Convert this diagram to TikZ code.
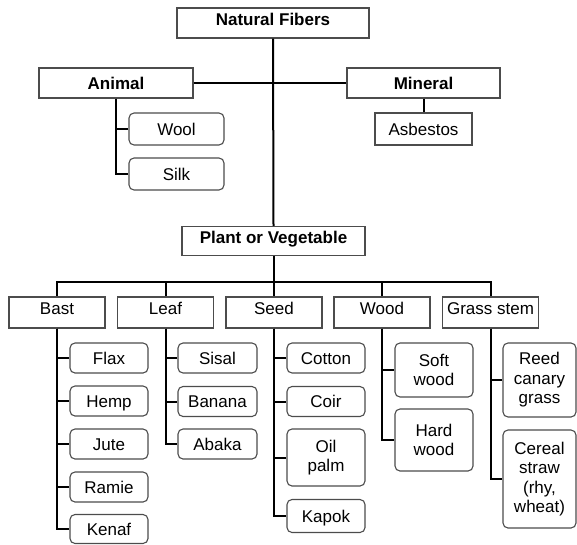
\documentclass[tikz,border=0pt]{standalone}
\usepackage{fontspec}
\setmainfont{Liberation Sans}
\begin{document}
\begin{tikzpicture}[x=1pt,y={(0pt,-1pt)},
  box/.style={draw=black!70, line width=1.1pt, inner sep=0pt, align=center,
    font=\fontsize{17}{19.5}\selectfont},
  one/.style={text height=12.2pt, text depth=0pt},
  up/.style={text height=12.2pt, text depth=8pt},
  headbox/.style={box, font=\fontsize{17}{19.5}\selectfont\bfseries},
  catbox/.style={box, up, minimum width=96pt, minimum height=31pt},
  leafbox/.style={box, rounded corners=5pt},
  conn/.style={line width=2pt, black}]
\useasboundingbox (0,0) rectangle (577,544);
% top level
\node[headbox, up, minimum width=192pt, minimum height=30pt] (nf) at (273,23) {Natural Fibers};
\node[headbox, one, minimum width=154pt, minimum height=30pt] (animal) at (116,83) {Animal};
\node[headbox, one, minimum width=153pt, minimum height=30pt] (mineral) at (423.5,83) {Mineral};
\node[leafbox, one, minimum width=95pt, minimum height=32pt] (wool) at (176.5,129) {Wool};
\node[leafbox, one, minimum width=95pt, minimum height=32pt] (silk) at (176.5,174) {Silk};
\node[box, one, minimum width=97pt, minimum height=32pt] (asb) at (423.5,129) {Asbestos};
\node[headbox, up, minimum width=183pt, minimum height=29pt] (plant) at (273.5,241) {Plant or Vegetable};
% categories
\node[catbox] (bast) at (57,312.5) {Bast};
\node[catbox] (leaf) at (165.5,312.5) {Leaf};
\node[catbox] (seed) at (274,312.5) {Seed};
\node[catbox] (wood) at (382,312.5) {Wood};
\node[catbox] (grass) at (490.5,312.5) {Grass stem};
% bast children
\node[leafbox, one, minimum width=78pt, minimum height=30pt] (flax) at (109,358) {Flax};
\node[leafbox, one, minimum width=78pt, minimum height=30pt] (hemp) at (109,401) {Hemp};
\node[leafbox, one, minimum width=78pt, minimum height=30pt] (jute) at (109,444) {Jute};
\node[leafbox, one, minimum width=78pt, minimum height=30pt] (ramie) at (109,487) {Ramie};
\node[leafbox, one, minimum width=78pt, minimum height=29pt] (kenaf) at (109,529) {Kenaf};
% leaf children
\node[leafbox, one, minimum width=79pt, minimum height=30pt] (sisal) at (217.5,358) {Sisal};
\node[leafbox, one, minimum width=79pt, minimum height=30pt] (banana) at (217.5,401.5) {Banana};
\node[leafbox, one, minimum width=79pt, minimum height=30pt] (abaka) at (217.5,444) {Abaka};
% seed children
\node[leafbox, one, minimum width=78pt, minimum height=30pt] (cotton) at (326,358) {Cotton};
\node[leafbox, one, minimum width=78pt, minimum height=30pt] (coir) at (326,401.5) {Coir};
\node[leafbox, minimum width=78pt, minimum height=57pt] (oil) at (326,457.5) {Oil\\palm};
\node[leafbox, one, minimum width=78pt, minimum height=33pt] (kapok) at (326,516) {Kapok};
% wood children
\node[leafbox, minimum width=78pt, minimum height=54pt] (soft) at (434,370) {Soft\\wood};
\node[leafbox, minimum width=78pt, minimum height=62pt] (hard) at (434,440) {Hard\\wood};
% grass children
\node[leafbox, minimum width=73pt, minimum height=74pt] (reed) at (539.5,380) {Reed\\canary\\grass};
\node[leafbox, minimum width=73pt, minimum height=98pt] (cereal) at (539.5,479) {Cereal\\straw\\(rhy,\\wheat)};
% connectors
\draw[conn] (nf.south) -- (plant.north);
\draw[conn] (animal.east) -- (mineral.west);
\draw[conn] (mineral.south) -- (asb.north);
\draw[conn] (animal.south) |- (wool.west);
\draw[conn] (animal.south) |- (silk.west);
\draw[conn] (plant.south) -- ++(0,26) coordinate (bus);
\foreach \c in {bast,leaf,seed,wood,grass} \draw[conn] (bus) -| (\c.north);
\foreach \c in {flax,hemp,jute,ramie,kenaf} \draw[conn] (bast.south) |- (\c.west);
\foreach \c in {sisal,banana,abaka} \draw[conn] (leaf.south) |- (\c.west);
\foreach \c in {cotton,coir,oil,kapok} \draw[conn] (seed.south) |- (\c.west);
\foreach \c in {soft,hard} \draw[conn] (wood.south) |- (\c.west);
\foreach \c in {reed,cereal} \draw[conn] (grass.south) |- (\c.west);
\end{tikzpicture}
\end{document}
